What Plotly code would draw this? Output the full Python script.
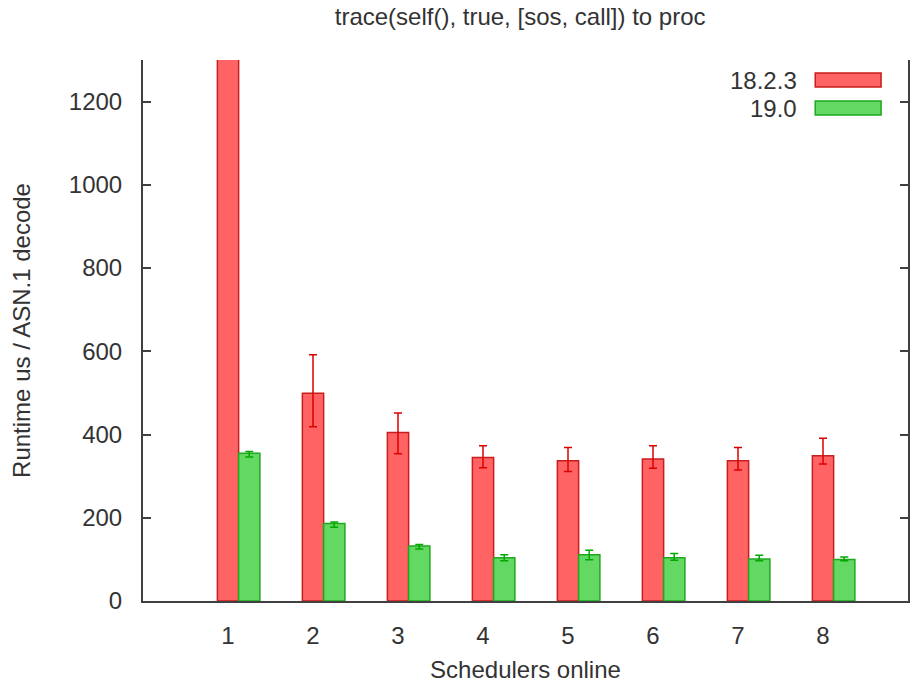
import plotly.graph_objects as go

# ---- data ----
categories = [1, 2, 3, 4, 5, 6, 7, 8]
series_names = ["18.2.3", "19.0"]
v_1823 = [1500, 499, 405, 345, 337, 341, 337, 349]
v_1823_plus = [120, 93, 47, 28, 32, 32, 32, 42]
v_1823_minus = [120, 80, 51, 25, 26, 22, 22, 20]
v_190 = [355, 186, 132, 104, 111, 104, 101, 100]
v_190_plus = [4, 4, 4, 7, 11, 10, 9, 6]
v_190_minus = [9, 9, 7, 7, 12, 6, 4, 3]
y_ticks = [0, 200, 400, 600, 800, 1000, 1200]

title = "trace(self(), true, [sos, call]) to proc"
x_title = "Schedulers online"
y_title = "Runtime us / ASN.1 decode"

# ---- styles ----
FONT = "Liberation Sans, Arial, sans-serif"
TXT = "#333333"
AX = "#404040"
fills = ["#ff6363", "#63d863"]
edges = ["#c81e1e", "#1ea81e"]
errc = ["#dd0000", "#00a800"]
W, H = 910, 684
ML, MR, MT, MB = 143, 0, 60, 83
BW = 0.25

fig = go.Figure()
vals = [v_1823, v_190]
plus = [v_1823_plus, v_190_plus]
minus = [v_1823_minus, v_190_minus]
offsets = [-BW / 2, BW / 2]
for k in range(2):
    fig.add_trace(go.Bar(
        x=categories, y=vals[k], name=series_names[k],
        width=BW, offset=offsets[k],
        marker=dict(color=fills[k], line=dict(color=edges[k], width=1.5)),
        error_y=dict(type="data", symmetric=False, array=plus[k], arrayminus=minus[k],
                     color=errc[k], thickness=1.5, width=4),
        showlegend=False,
    ))

pw = W - ML - MR
ph = H - MT - MB

# custom gnuplot-style legend (text on left, wide swatch on right)
for k, name in enumerate(series_names):
    cy = 80 + 28 * k
    fig.add_annotation(
        xref="paper", yref="paper", x=(801 - ML) / pw, y=(H - MB - cy) / ph,
        xanchor="right", yanchor="middle", text=name, showarrow=False,
        font=dict(family=FONT, size=24, color=TXT))
    fig.add_shape(
        type="rect", xref="paper", yref="paper",
        x0=(817 - ML) / pw, x1=(883 - ML) / pw,
        y0=(H - MB - cy - 7) / ph, y1=(H - MB - cy + 7) / ph,
        fillcolor=fills[k], line=dict(color=edges[k], width=1.5))

fig.update_layout(
    width=W, height=H,
    margin=dict(l=ML, r=MR, t=MT, b=MB),
    plot_bgcolor="white", paper_bgcolor="white",
    font=dict(family=FONT, size=24, color=TXT),
    title=dict(text=title, x=0.493, xref="paper", y=1 - 17 / H, yref="container",
               xanchor="center", yanchor="middle", font=dict(size=24, color=TXT)),
    xaxis=dict(range=[0, 9], tickvals=categories, ticktext=[str(c) for c in categories],
               ticks="", showline=True, linecolor=AX, linewidth=2, mirror=False,
               showgrid=False, zeroline=False, ticklabelstandoff=12,
               title=dict(text=x_title, standoff=13, font=dict(size=24))),
    xaxis2=dict(range=[0, 9], overlaying="x", side="top", anchor="y",
                tickvals=categories, ticks="inside", ticklen=8, tickwidth=1.5,
                tickcolor=AX, showticklabels=False, showline=True, linecolor=AX,
                linewidth=2, showgrid=False, zeroline=False),
    yaxis=dict(range=[0, 1300], tickvals=y_ticks, ticks="inside", ticklen=8,
               tickwidth=1.5, tickcolor=AX, showline=True, linecolor=AX, linewidth=2,
               mirror="ticks", showgrid=False, zeroline=False, ticklabelstandoff=14,
               title=dict(text=y_title, standoff=31, font=dict(size=24))),
)

fig.write_html("out.html", config={"displayModeBar": False},
               post_script="document.body.style.margin='0';")
